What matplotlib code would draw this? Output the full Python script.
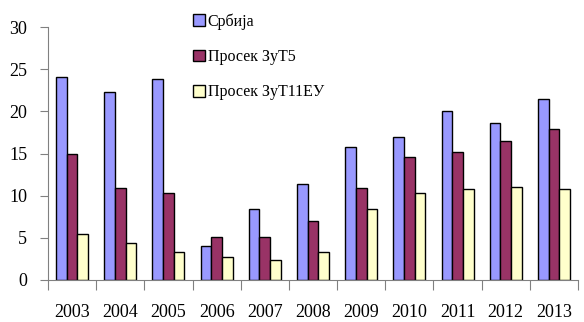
import matplotlib
matplotlib.use("Agg")
import matplotlib.pyplot as plt
import numpy as np

years = ["2003", "2004", "2005", "2006", "2007", "2008", "2009", "2010", "2011", "2012", "2013"]
srbija = [24.1, 22.3, 23.8, 4.0, 8.4, 11.4, 15.8, 17.0, 20.0, 18.6, 21.5]
zut5 = [14.9, 10.9, 10.3, 5.1, 5.1, 7.0, 10.9, 14.6, 15.2, 16.5, 17.9]
zut11eu = [5.5, 4.4, 3.3, 2.7, 2.4, 3.3, 8.4, 10.3, 10.8, 11.0, 10.8]
labels = ["Србија", "Просек ЗуТ5", "Просек ЗуТ11ЕУ"]
colors = ["#9999FF", "#993366", "#FFFFCC"]

plt.rcParams["font.family"] = ["Liberation Serif", "DejaVu Serif"]

fig = plt.figure(figsize=(5.84, 3.22), dpi=100)
ax = fig.add_axes([48 / 584, 42 / 322, 530 / 584, 253 / 322])

x = np.arange(len(years))
w = 0.222
for i, (vals, lab, col) in enumerate(zip([srbija, zut5, zut11eu], labels, colors)):
    ax.bar(x + (i - 1) * w, vals, width=w, color=col, edgecolor="black",
           linewidth=1.0, label=lab)

ax.set_xlim(-0.5, len(years) - 0.5)
ax.set_ylim(0, 30)
ax.set_yticks(range(0, 31, 5))
ax.set_xticks(x)
ax.set_xticklabels(years)
ax.set_xticks(np.arange(-0.5, len(years), 1.0), minor=True)
ax.tick_params(axis="x", which="major", length=0, pad=17, labelsize=13)
ax.tick_params(axis="x", which="minor", length=7, width=0.8, color="#808080", direction="out")
ax.tick_params(axis="y", length=6, width=0.8, color="#808080", pad=9, labelsize=13)

for s in ["top", "right"]:
    ax.spines[s].set_visible(False)
for s in ["left", "bottom"]:
    ax.spines[s].set_color("#808080")
    ax.spines[s].set_linewidth(0.8)

fig.legend(loc="upper left", bbox_to_anchor=(187 / 584, 1 - 7 / 322), frameon=False,
           fontsize=11.5, handlelength=0.75, handleheight=0.75, handletextpad=0.15,
           labelspacing=1.2, borderaxespad=0)

fig.savefig("out.png", dpi=100)
